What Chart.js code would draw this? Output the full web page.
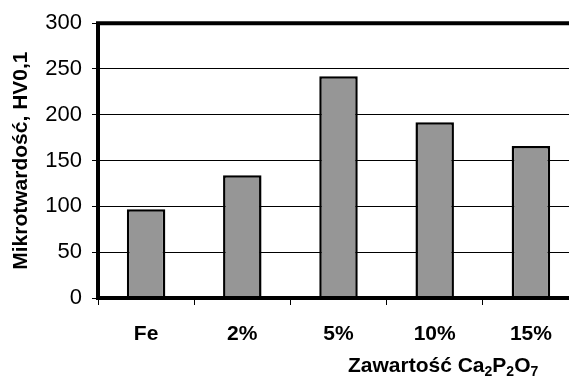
<!DOCTYPE html>
<html>
<head>
<meta charset="utf-8">
<script src="https://cdn.jsdelivr.net/npm/chart.js@4"></script>
<style>
    html, body { margin: 0; padding: 0; overflow: hidden; background: #fff; }
    #wrap { width: 581px; height: 376px; }
</style>
</head>
<body>
<div id="wrap"><canvas id="hardnessChart" width="581" height="376"></canvas></div>
<script>
const categories = ['Fe', '2%', '5%', '10%', '15%'];
const hardness = [97, 134, 242, 192, 166];
const yTicks = [0, 50, 100, 150, 200, 250, 300];
const yTitle = 'Mikrotwardość, HV0,1';
// x title pieces: [text, isSubscript]
const xTitleParts = [['Zawartość Ca', false], ['2', true], ['P', false], ['2', true], ['O', false], ['7', true]];

const FONT = "'Liberation Sans', Arial, sans-serif";

const framePlugin = {
    id: 'frame',
    afterDatasetsDraw(chart) {
        const { ctx, chartArea } = chart;
        ctx.save();
        ctx.strokeStyle = '#000';
        ctx.lineWidth = 4;
        ctx.lineCap = 'square';
        ctx.beginPath();
        ctx.moveTo(chartArea.right + 5, chartArea.top);
        ctx.lineTo(chartArea.left, chartArea.top);
        ctx.lineTo(chartArea.left, chartArea.bottom);
        ctx.lineTo(chartArea.right + 5, chartArea.bottom);
        ctx.stroke();
        ctx.restore();
    },
};

const xTitlePlugin = {
    id: 'xTitle',
    afterDraw(chart) {
        const { ctx } = chart;
        ctx.save();
        ctx.fillStyle = '#000';
        ctx.textBaseline = 'alphabetic';
        ctx.textAlign = 'left';
        let x = 348;
        const baseline = 372;
        xTitleParts.forEach(([text, sub]) => {
            ctx.font = sub ? `bold 14px ${FONT}` : `bold 21px ${FONT}`;
            ctx.fillText(text, x, sub ? baseline + 4 : baseline);
            x += ctx.measureText(text).width;
        });
        ctx.restore();
    },
};

new Chart(document.getElementById('hardnessChart'), {
    type: 'bar',
    data: {
        labels: categories,
        datasets: [
            {
                data: hardness,
                backgroundColor: '#969696',
                borderColor: '#000',
                borderWidth: 2.5,
                barPercentage: 0.4,
                categoryPercentage: 1,
            },
        ],
    },
    options: {
        responsive: false,
        animation: false,
        layout: {
            padding: { top: 22, right: 2, left: 0, bottom: 0 },
        },
        plugins: {
            legend: { display: false },
            tooltip: { enabled: false },
        },
        scales: {
            x: {
                grid: {
                    offset: true,
                    drawOnChartArea: false,
                    tickLength: 7,
                    tickColor: '#000',
                    lineWidth: 1,
                },
                border: { display: false },
                ticks: {
                    color: '#000',
                    padding: 17,
                    font: { family: FONT, size: 21, weight: 'bold' },
                },
                afterFit: (scale) => {
                    scale.height = 78;
                },
            },
            y: {
                min: 0,
                max: 300,
                afterBuildTicks: (scale) => {
                    scale.ticks = yTicks.map((value) => ({ value }));
                },
                grid: {
                    color: '#000',
                    lineWidth: 1,
                    tickLength: 6,
                },
                border: { display: false },
                ticks: {
                    color: '#000',
                    padding: 10,
                    font: { family: FONT, size: 22 },
                },
                title: {
                    display: true,
                    text: yTitle,
                    color: '#000',
                    padding: { top: 9, bottom: 0 },
                    font: { family: FONT, size: 21, weight: 'bold' },
                },
                afterFit: (scale) => {
                    scale.width = 98;
                },
            },
        },
    },
    plugins: [framePlugin, xTitlePlugin],
});
</script>
</body>
</html>
